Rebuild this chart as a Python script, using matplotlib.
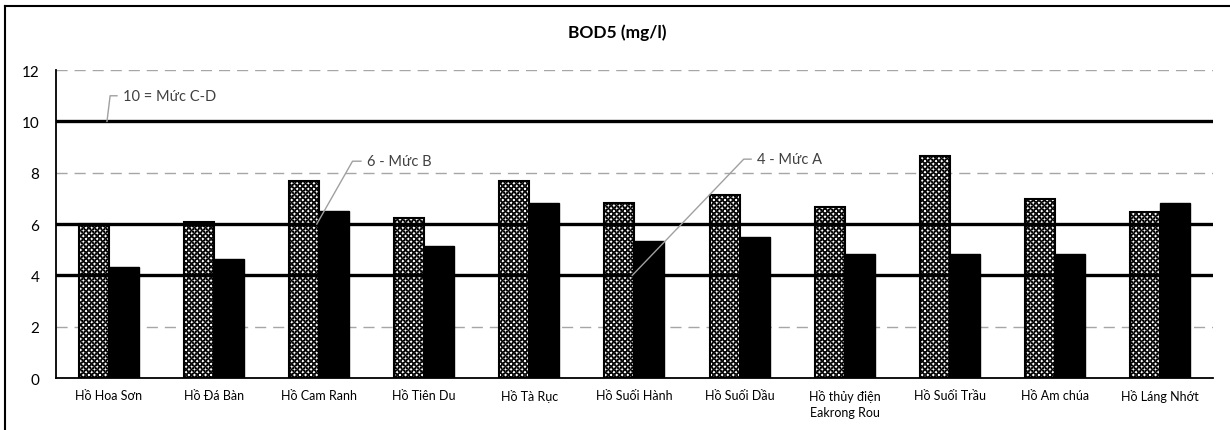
import numpy as np
import matplotlib.pyplot as plt
from matplotlib.lines import Line2D

plt.rcParams['font.family'] = ['Lato', 'DejaVu Sans']
plt.rcParams['hatch.linewidth'] = 0.5

lakes = ['Hồ Hoa Sơn', 'Hồ Đá Bàn', 'Hồ Cam Ranh', 'Hồ Tiên Du', 'Hồ Tà Rục',
         'Hồ Suối Hành', 'Hồ Suối Dầu', 'Hồ thủy điện\nEakrong Rou', 'Hồ Suối Trầu',
         'Hồ Am chúa', 'Hồ Láng Nhớt']
bod_hatched = [6.0, 6.1, 7.66, 6.23, 7.66, 6.84, 7.14, 6.67, 8.66, 6.97, 6.48]
bod_solid = [4.34, 4.64, 6.49, 5.15, 6.84, 5.35, 5.5, 4.83, 4.83, 4.83, 6.84]

# standard limits (QCVN) drawn as thick lines
limits = [10, 6, 4]
limit_labels = ['10 = Mức C-D', '6 - Mức B', '4 - Mức A']

fig = plt.figure(figsize=(12.3, 4.31), dpi=100)
ax = fig.add_axes([0.0455, 0.1206, 0.9405, 0.7144])

x = np.arange(len(lakes))
w = 0.285
ax.bar(x - w / 2, bod_hatched, w, color='white', edgecolor='black',
       hatch='++++++xxxxxx', linewidth=1.5, zorder=2)
ax.bar(x + w / 2, bod_solid, w, color='black', edgecolor='black',
       linewidth=1.0, zorder=2)

for v in [2, 8, 12]:
    ax.axhline(v, color='#a6a6a6', lw=1.0, ls=(0, (8, 5)), zorder=1)
for v in limits:
    ax.axhline(v, color='black', lw=2.4, zorder=3)

ax.set_xlim(-0.5, len(lakes) - 0.5)
ax.set_ylim(0, 12)
ax.set_yticks(range(0, 13, 2))
ax.set_xticks(x)
ax.set_xticklabels(lakes, fontsize=9, linespacing=1.35)
ax.tick_params(axis='both', length=0, colors='black')
ax.tick_params(axis='y', labelsize=11, pad=12)
ax.tick_params(axis='x', pad=8)
for s in ['top', 'right']:
    ax.spines[s].set_visible(False)
for s in ['left', 'bottom']:
    ax.spines[s].set_color('black')
    ax.spines[s].set_linewidth(1.3)

fig.text(0.502, 0.923, 'BOD5 (mg/l)', fontsize=12.5, fontweight='bold',
         ha='center', va='center')

# leader lines for the limit labels: (anchor x, knee x, knee y, end x)
leaders = [(-0.015, 0.015, 11.0, 0.08),
           (1.98, 2.32, 8.45, 2.4),
           (4.98, 6.04, 8.53, 6.11)]
for (ax0, kx, ky, ex), v, lab in zip(leaders, limits, limit_labels):
    ax.plot([ax0, kx, ex], [v, ky, ky], color='#a0a0a0', lw=1.0, zorder=4)
    ax.text(ex + 0.06, ky, lab, fontsize=10.5, color='#404040',
            va='center', ha='left', zorder=4)

# chart frame: only left and top edges show
fig.lines.append(Line2D([0.004, 0.004], [0.0, 0.984], transform=fig.transFigure,
                        color='black', lw=1.5))
fig.lines.append(Line2D([0.004, 1.0], [0.984, 0.984], transform=fig.transFigure,
                        color='black', lw=1.5))

fig.savefig('out.png', dpi=100)
